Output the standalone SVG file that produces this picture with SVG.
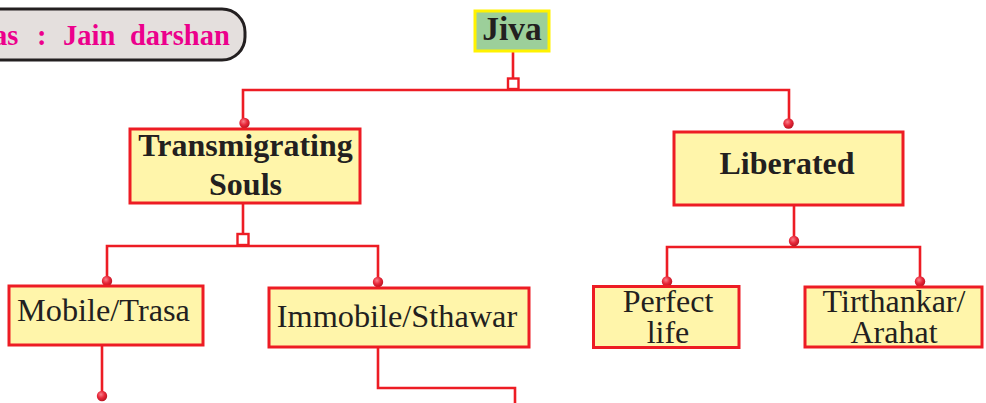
<svg xmlns="http://www.w3.org/2000/svg" width="986" height="403" viewBox="0 0 986 403">
<defs>
<radialGradient id="dotg" cx="0.4" cy="0.35" r="0.7">
<stop offset="0" stop-color="#f7808a"/>
<stop offset="0.5" stop-color="#e8283a"/>
<stop offset="1" stop-color="#b3121f"/>
</radialGradient>
<style>
.box{fill:#fff5aa;stroke:#ed1c24;stroke-width:3}
.ln{fill:none;stroke:#ed1c24;stroke-width:2.6}
.sq{fill:#ffffff;stroke:#ed1c24;stroke-width:2.4}
.dot{fill:url(#dotg)}
.b{font-family:"Liberation Serif",serif;font-weight:bold;font-size:32px;fill:#231f20;text-anchor:middle}
.r{font-family:"Liberation Serif",serif;font-size:32.3px;fill:#231f20;text-anchor:middle}
.t{font-family:"Liberation Serif",serif;font-weight:bold;font-size:28.5px;fill:#ec008c}
</style>
</defs>
<rect width="986" height="403" fill="#ffffff"/>
<g id="title">
<rect x="-40" y="9" width="285" height="51" rx="23" ry="23" fill="#e4dfdd" stroke="#231f20" stroke-width="3"/>
<text class="t" y="45"><tspan x="-7">as</tspan><tspan x="37">:</tspan><tspan x="63">Jain</tspan><tspan x="130">darshan</tspan></text>
</g>
<g id="connectors">
<path class="ln" d="M513 51 V90 M243 128 V90 H789 V123"/>
<rect class="sq" x="508" y="78.5" width="10.5" height="10.5"/>
<path class="ln" d="M243 203 V246 M107 281 V246 H378 V282"/>
<rect class="sq" x="237.5" y="234" width="11" height="11"/>
<path class="ln" d="M102 345 V395"/>
<path class="ln" d="M378 347 V388 H515 V403"/>
<path class="ln" d="M794 205 V247 M667 282 V247 H920 V282"/>
<circle class="dot" cx="244.5" cy="123" r="5.2"/>
<circle class="dot" cx="788.5" cy="123.5" r="5.2"/>
<circle class="dot" cx="107" cy="281" r="5.2"/>
<circle class="dot" cx="378" cy="282" r="5.2"/>
<circle class="dot" cx="102" cy="396" r="5.2"/>
<circle class="dot" cx="794" cy="241" r="5.2"/>
<circle class="dot" cx="667" cy="281.5" r="5.2"/>
<circle class="dot" cx="920" cy="281.5" r="5.2"/>
</g>
<g id="jiva">
<rect x="475" y="11" width="74" height="40" fill="#9ccf9a" stroke="#fff200" stroke-width="3"/>
<text class="b" x="512" y="40" style="font-size:33.5px">Jiva</text>
</g>
<g id="transmigrating">
<rect class="box" x="130" y="129" width="230" height="74"/>
<text class="b" x="245.5" y="156">Transmigrating</text>
<text class="b" x="245.5" y="195">Souls</text>
</g>
<g id="liberated">
<rect class="box" x="674" y="132" width="229" height="73"/>
<text class="b" x="787" y="174">Liberated</text>
</g>
<g id="mobile">
<rect class="box" x="9" y="286" width="194" height="59"/>
<text class="r" x="103.5" y="321">Mobile/Trasa</text>
</g>
<g id="immobile">
<rect class="box" x="269" y="288" width="260" height="59"/>
<text class="r" x="397" y="327">Immobile/Sthawar</text>
</g>
<g id="perfect">
<rect class="box" x="593.5" y="286.5" width="145.5" height="61"/>
<text class="r" x="668" y="311.5" style="font-size:32px">Perfect</text>
<text class="r" x="668" y="342.5" style="font-size:32px">life</text>
</g>
<g id="tirthankar">
<rect class="box" x="805" y="287" width="177" height="60"/>
<text class="r" x="894" y="311.5" style="font-size:32px">Tirthankar/</text>
<text class="r" x="894" y="342.5" style="font-size:32px">Arahat</text>
</g>
</svg>
